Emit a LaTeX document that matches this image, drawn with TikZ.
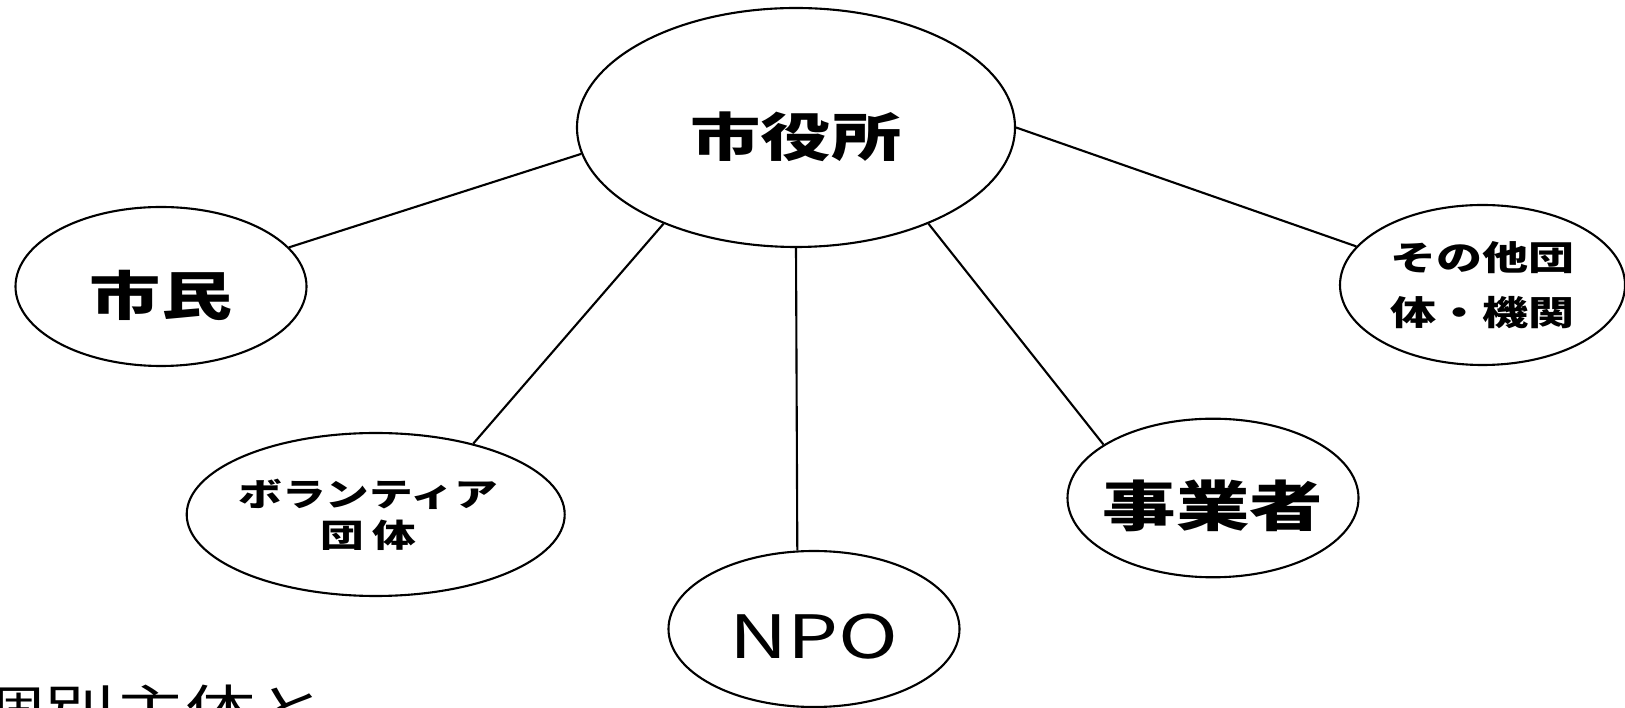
\documentclass[tikz,border=0pt]{standalone}
\usepackage{fontspec}
\newfontfamily\jp[FakeStretch=1.35]{Noto Sans CJK JP}
\usetikzlibrary{shapes.geometric}
\tikzset{
  blase/.style={ellipse, draw, line width=0.6pt, inner sep=0pt, align=center},
  gross/.style={text height=0.62cm, text depth=0.04cm},
  linie/.style={line width=0.6pt},
}
\begin{document}
\begin{tikzpicture}
  % Rahmen
  \useasboundingbox (0,0) rectangle (16.25,-7.08);
  \clip (0,0) rectangle (16.25,-7.08);
  % Mitte
  \node[blase, gross, font=\jp\bfseries\fontsize{14.8}{18}\selectfont,
        minimum width=4.38cm, minimum height=2.39cm] (shiyakusho) at (7.96,-1.275) {市役所};
  % Beteiligte
  \node[blase, gross, font=\jp\bfseries\fontsize{15}{18}\selectfont,
        minimum width=2.91cm, minimum height=1.59cm] (shimin) at (1.61,-2.865) {市民};
  \node[blase, inner xsep=-0.4cm, font=\jp\bfseries\fontsize{9.2}{11.6}\selectfont,
        minimum width=3.78cm, minimum height=1.63cm] (volunteer) at (3.757,-5.145) {ボランティア\hspace*{0.15cm}\\団\hspace{0.08cm}体\hspace*{0.15cm}};
  \node[blase, text height=0.59cm, text depth=0cm, font=\jp\fontsize{17}{20}\selectfont,
        minimum width=2.91cm, minimum height=1.56cm] (npo) at (8.14,-6.29) {NPO};
  \node[blase, gross, inner xsep=-0.4cm, font=\jp\bfseries\fontsize{15.5}{19}\selectfont,
        minimum width=2.91cm, minimum height=1.586cm] (jigyosha) at (12.13,-4.98) {事業者};
  \node[blase, font=\jp\bfseries\fontsize{9.7}{15.6}\selectfont,
        minimum width=2.85cm, minimum height=1.6cm] (sonota) at (14.825,-2.85) {その他団\\体・機関};
  % Verbindungen
  \draw[linie] (shiyakusho.187) -- (shimin.17);
  \draw[linie] (shiyakusho.216) -- (volunteer.36);
  \draw[linie] (shiyakusho.south) -- (npo.102);
  \draw[linie] (shiyakusho.324) -- (jigyosha.154);
  \draw[linie] (shiyakusho.east) -- (sonota.163);
  % Unterschrift (abgeschnitten)
  \node[anchor=base west, inner sep=0pt, font=\jp\fontsize{14.8}{18}\selectfont] (titel) at (-0.26,-7.29) {個別主体と};
\end{tikzpicture}
\end{document}
